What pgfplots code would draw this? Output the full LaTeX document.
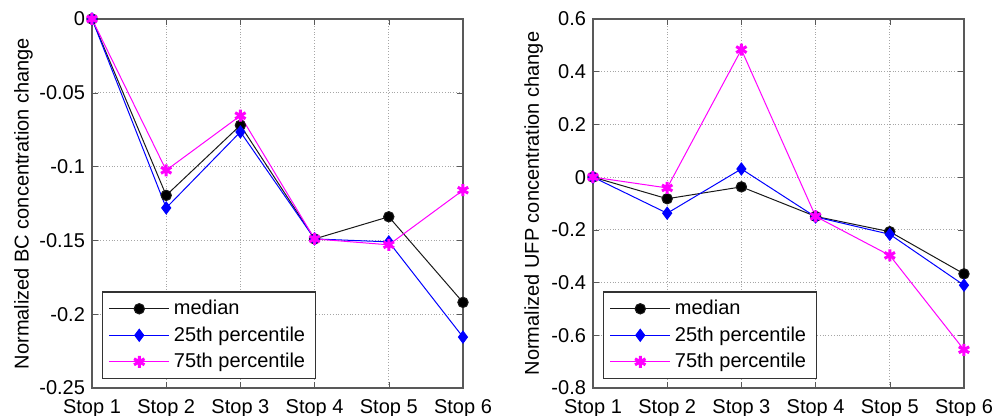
\documentclass[border=0pt]{standalone}
\usepackage{fontspec}
\setmainfont{Liberation Sans}
\usepackage{pgfplots}
\pgfplotsset{compat=1.18}
\definecolor{mmag}{RGB}{255,0,255}
\definecolor{mblue}{RGB}{0,0,255}
\pgfplotsset{
  mystyle/.style={
    scale only axis, width=185.5pt, height=184.5pt,
    xmin=1, xmax=6, xtick={1,...,6},
    xticklabels={Stop 1,Stop 2,Stop 3,Stop 4,Stop 5,Stop 6},
    tick align=inside, tick pos=both,
    major tick length=3pt,
    grid=major, grid style={densely dotted, gray!70, line width=0.5pt},
    axis line style={gray!70!black, line width=0.6pt},
    tick style={gray!70!black},
    font=\fontsize{10pt}{12pt}\selectfont,
    ticklabel style={font=\fontsize{10pt}{12pt}\selectfont},
    xticklabel style={yshift=-2pt},
    legend style={draw=black!80, line width=0.6pt,
      font=\fontsize{10pt}{11pt}\selectfont, row sep=0.5pt, inner xsep=3pt, inner ysep=2pt,
      at={(rel axis cs:0.027,0.024)}, anchor=south west},
    legend cell align=left,
    legend image code/.code={\draw[mark repeat=2,mark phase=2,#1] plot coordinates {(0cm,0cm) (0.53cm,0cm) (1.06cm,0cm)};},
  },
  med/.style={black!90, line width=0.5pt, mark=*, mark size=2.6pt, mark options={fill=black}},
  p25/.style={mblue, line width=0.5pt, mark=diamond*, mark size=3pt, mark options={fill=mblue}},
  p75/.style={mmag, line width=0.5pt, mark=asterisk, mark size=3pt, mark options={line width=1.5pt}},
}
\begin{document}
\begin{tikzpicture}
\path[use as bounding box] (0,0) rectangle (496.5pt,208pt);
\begin{axis}[mystyle, at={(46pt,14pt)}, anchor=south west,
  ymin=-0.25, ymax=0,
  ytick={-0.25,-0.2,-0.15,-0.1,-0.05,0},
  yticklabels={-0.25,-0.2,-0.15,-0.1,-0.05,0},
  ylabel={Normalized BC concentration change},
  ylabel style={at={(axis description cs:-0.185,0.5)}, anchor=center},
]
\addplot[med] coordinates {(1,0) (2,-0.1195) (3,-0.072) (4,-0.149) (5,-0.134) (6,-0.192)};
\addplot[p25] coordinates {(1,0) (2,-0.128) (3,-0.0765) (4,-0.149) (5,-0.151) (6,-0.2155)};
\addplot[p75] coordinates {(1,0) (2,-0.1025) (3,-0.0655) (4,-0.149) (5,-0.153) (6,-0.116)};
\legend{median,25th percentile,75th percentile}
\end{axis}
\begin{axis}[mystyle, at={(296.5pt,14pt)}, anchor=south west,
  ymin=-0.8, ymax=0.6,
  ytick={-0.8,-0.6,-0.4,-0.2,0,0.2,0.4,0.6},
  yticklabels={-0.8,-0.6,-0.4,-0.2,0,0.2,0.4,0.6},
  ylabel={Normalized UFP concentration change},
  ylabel style={at={(axis description cs:-0.16,0.5)}, anchor=center},
]
\addplot[med] coordinates {(1,0) (2,-0.082) (3,-0.037) (4,-0.149) (5,-0.207) (6,-0.367)};
\addplot[p25] coordinates {(1,0) (2,-0.137) (3,0.031) (4,-0.151) (5,-0.217) (6,-0.41)};
\addplot[p75] coordinates {(1,0) (2,-0.041) (3,0.484) (4,-0.149) (5,-0.297) (6,-0.655)};
\legend{median,25th percentile,75th percentile}
\end{axis}
\end{tikzpicture}
\end{document}
